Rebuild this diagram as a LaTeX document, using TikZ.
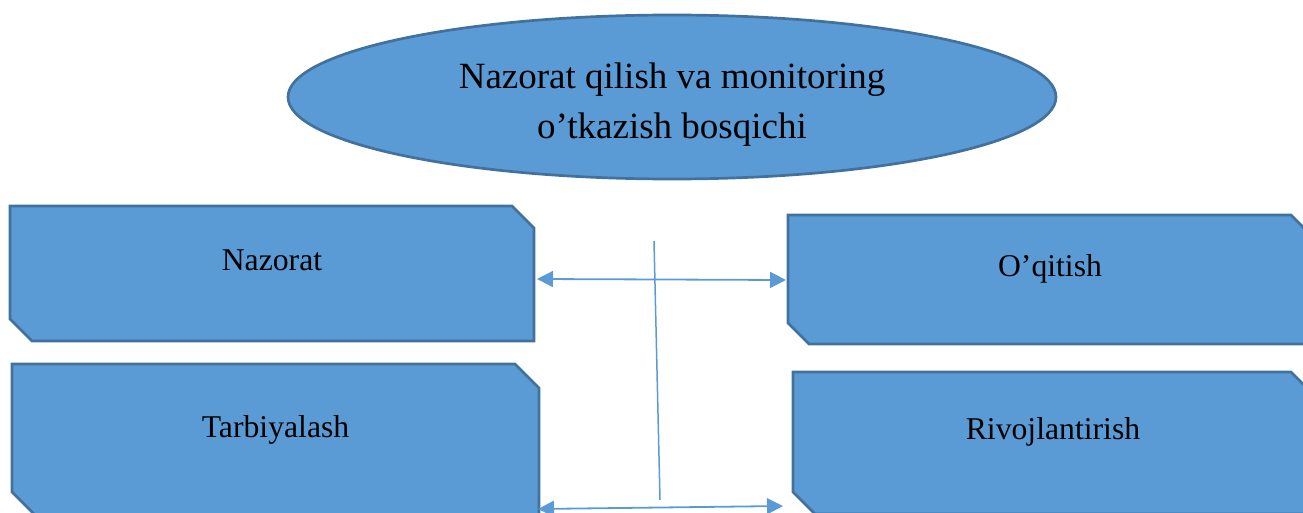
\documentclass[tikz,border=0pt]{standalone}
\usepackage{fontspec}
\setmainfont{Liberation Serif}
\usetikzlibrary{shapes.geometric,arrows.meta,calc}
\definecolor{boxfill}{HTML}{5B9BD5}
\definecolor{boxedge}{HTML}{41719C}
\definecolor{linkc}{HTML}{5B9BD5}
\tikzset{
  boxarea/.style={rectangle, draw=none, inner sep=0pt, outer sep=0pt},
  boxline/.style={draw=boxedge, fill=boxfill, line width=2.7pt, line join=miter},
  lbl/.style={inner sep=0pt, font=\fontsize{31.7}{38}\selectfont, text=black},
  title/.style={inner sep=0pt, align=center, font=\fontsize{37}{50}\selectfont, text=black},
  oval/.style={ellipse, draw=boxedge, fill=boxfill, line width=2.7pt, inner sep=0pt},
  link/.style={draw=linkc, line width=1.8pt, {Triangle[length=16pt,width=16pt]}-{Triangle[length=16pt,width=16pt]}},
  stem/.style={draw=linkc, line width=1.5pt}
}
\newcommand\chbox[3]{%
  \draw[boxline] (#1.north west) -- ($(#1.north east)+(-#2,0)$) -- ($(#1.north east)+(0,#2)$)
    -- (#1.south east) -- ($(#1.south west)+(#3,0)$) -- ($(#1.south west)+(0,-#3)$) -- cycle;}
\begin{document}
\begin{tikzpicture}[x=1pt,y=-1pt]
\useasboundingbox (0,0) rectangle (1303,513);
% top ellipse
\node[oval, minimum width=768pt, minimum height=164pt] (top) at (672,97) {};
\node[title] (toptext) at (672,104.5) {Nazorat qilish va monitoring\\o’tkazish bosqichi};
% boxes
\node[boxarea, minimum width=524pt, minimum height=135pt] (naz) at (272,273.5) {};
\node[boxarea, minimum width=525pt, minimum height=129pt] (oqi) at (1050.5,279.5) {};
\node[boxarea, minimum width=527pt, minimum height=151pt] (tarb) at (275.5,439.5) {};
\node[boxarea, minimum width=520pt, minimum height=142pt] (riv) at (1053,443) {};
\chbox{naz}{22}{22}
\chbox{oqi}{22}{21}
\chbox{tarb}{24}{23}
\chbox{riv}{22}{22}
\node[lbl, anchor=base] (nazt) at (272,270) {Nazorat};
\node[lbl, anchor=base] (oqit) at (1050,276) {O’qitish};
\node[lbl, anchor=base] (tarbt) at (275.5,437) {Tarbiyalash};
\node[lbl, anchor=base] (rivt) at (1053,439) {Rivojlantirish};
% connectors
\draw[link] ($(naz.east)+(3,5.5)$) -- ($(oqi.west)+(-2,0.5)$);
\draw[link] ($(tarb.east)+(-1,69.5)$) -- ($(riv.west)+(-10,63)$);
\coordinate (vt) at (654,241);
\coordinate (vb) at (660,500);
\draw[stem] (vt) -- (vb);
\end{tikzpicture}
\end{document}
